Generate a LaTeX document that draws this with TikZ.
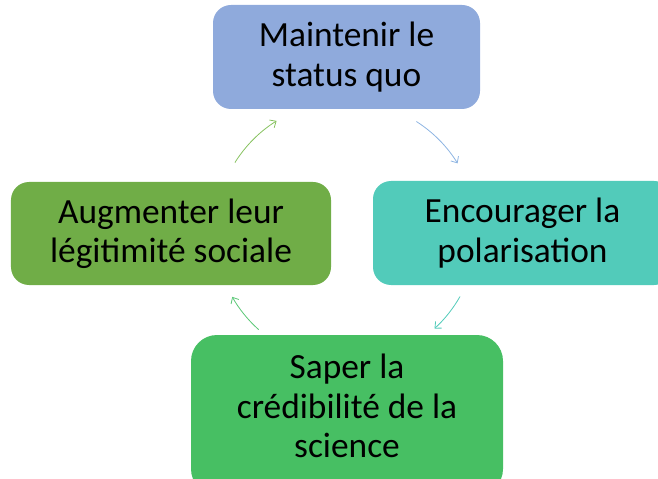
\documentclass[tikz,border=0pt]{standalone}
\usepackage{fontspec}
\setmainfont{Carlito}
\usetikzlibrary{arrows.meta}
\definecolor{cTop}{HTML}{8FAADC}
\definecolor{cRight}{HTML}{52CBBA}
\definecolor{cLeft}{HTML}{70AD47}
\definecolor{cBottom}{HTML}{47BF63}
\definecolor{aTop}{HTML}{8DB4E2}
\definecolor{aRight}{HTML}{52CBBA}
\definecolor{aBottom}{HTML}{5CC877}
\definecolor{aLeft}{HTML}{86C15E}
\tikzset{
  box/.style={rectangle, rounded corners=18bp, inner sep=0pt, align=center,
    font=\fontsize{35.5}{39.5}\selectfont, text=black},
  cyc/.style={line width=0.8bp, -{Straight Barb[length=5bp,width=9bp,line width=0.8bp]}}
}
\begin{document}
\begin{tikzpicture}[x=1bp,y=-1bp]
\useasboundingbox (0,0) rectangle (658,479);
\clip (0,0) rectangle (658,479);
\node[box, fill=cTop, minimum width=267bp, minimum height=104bp] (top) at (346.5,57) {Maintenir le\\status quo};
\node[box, fill=cRight, minimum width=299bp, minimum height=104bp] (right) at (522.5,233) {Encourager la\\polarisation};
\node[box, fill=cLeft, minimum width=320bp, minimum height=103bp] (left) at (171,233.5) {Augmenter leur\\légitimité sociale};
\node[box, fill=cBottom, rounded corners=26bp, minimum width=312bp, minimum height=160bp] (bottom) at (347,415) {};
\node[font=\fontsize{35.5}{39.5}\selectfont, align=center, inner sep=0pt] (btext) at (347,406) {Saper la\\crédibilité de la\\science};
% cycle arcs on a circle centred at (346,232), radius 131
\coordinate (c) at (346,232);
\coordinate (t1) at ([shift={(-57.5:131)}]c);
\coordinate (r1) at ([shift={(29.5:131)}]c);
\coordinate (b1) at ([shift={(131.8:131)}]c);
\coordinate (l1) at ([shift={(-148:131)}]c);
\draw[cyc, aTop] (t1) arc[start angle=-57.5, end angle=-31.6, radius=131];
\draw[cyc, aRight] (r1) arc[start angle=29.5, end angle=47.5, radius=131];
\draw[cyc, aBottom] (b1) arc[start angle=131.8, end angle=150.3, radius=131];
\draw[cyc, aLeft] (l1) arc[start angle=-148, end angle=-122, radius=131];
\end{tikzpicture}
\end{document}
